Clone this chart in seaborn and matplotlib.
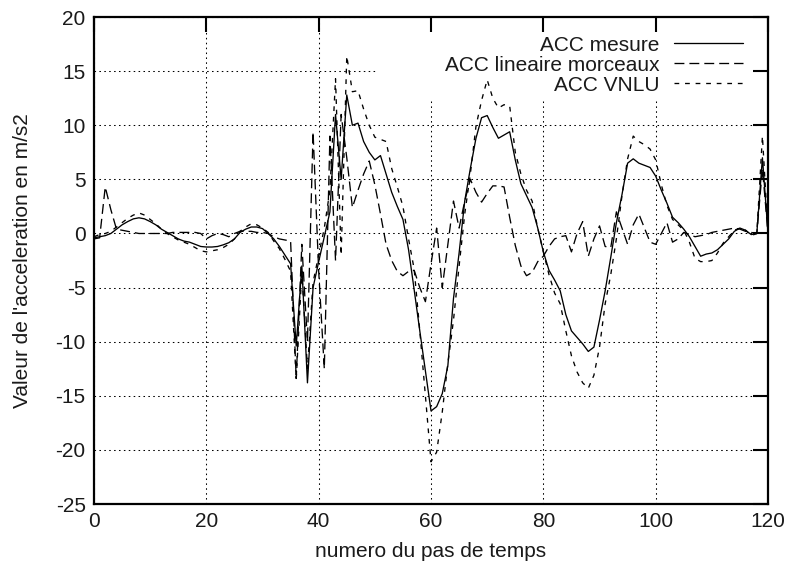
import numpy as np
import pandas as pd
import matplotlib
matplotlib.use("Agg")
import matplotlib.pyplot as plt
from matplotlib.path import Path
import seaborn as sns

# Time step index
steps = list(range(0, 121))

# Measured acceleration (m/s2)
acc_mesure = [
    -0.4, -0.3, -0.2, 0.0, 0.4, 0.8, 1.1, 1.35, 1.45, 1.35,
    1.1, 0.8, 0.4, 0.1, -0.2, -0.5, -0.7, -0.8, -1.0, -1.2,
    -1.25, -1.25, -1.2, -1.05, -0.85, -0.5, 0.1, 0.4, 0.6, 0.6,
    0.45, 0.0, -0.5, -1.2, -2.0, -2.8, -10.4, -3.0, -13.8, -5.0,
    -2.6, -0.3, 2.0, 11.0, 5.0, 12.8, 10.0, 10.2, 8.5, 7.5,
    6.8, 7.2, 5.5, 3.8, 2.5, 1.3, -1.5, -5.2, -9.0, -12.7,
    -16.4, -16.0, -14.8, -12.2, -6.0, -1.8, 3.0, 6.0, 8.8, 10.7,
    10.9, 9.8, 8.8, 9.1, 9.4, 6.8, 4.6, 3.5, 2.4, 0.5,
    -1.7, -3.4, -4.3, -5.3, -7.5, -9.0, -9.6, -10.2, -10.9, -10.5,
    -8.0, -5.3, -2.2, 1.0, 3.6, 6.5, 6.9, 6.5, 6.3, 6.1,
    5.3, 4.0, 2.8, 1.5, 1.0, 0.4, -0.3, -1.2, -2.1, -1.9,
    -1.8, -1.5, -1.0, -0.5, 0.2, 0.5, 0.3, -0.1, 0.0, 7.0,
    0.0,
]

# Piecewise linear model
acc_lineaire = [
    -0.5, -0.4, 4.3, 2.2, 0.4, 0.3, 0.2, 0.1, 0.0, 0.0,
    0.0, 0.0, 0.0, 0.0, 0.1, 0.1, 0.1, 0.1, 0.1, 0.0,
    -0.5, -0.2, 0.0, -0.1, -0.3, 0.0, 0.2, 0.2, 0.2, 0.1,
    0.1, 0.0, -0.3, -0.5, -0.6, -0.7, -13.4, -1.0, -10.0, 9.4,
    -3.5, -12.5, 9.0, -2.5, 11.0, 7.0, 2.4, 4.0, 5.5, 6.7,
    4.5, 1.8, -1.0, -2.5, -3.5, -3.9, -3.5, -3.4, -5.0, -6.3,
    -2.8, 0.5, -5.0, -1.0, 3.0, 0.5, 3.0, 5.0, 3.8, 2.9,
    3.7, 4.4, 4.4, 4.3, 1.5, -1.1, -3.0, -3.9, -3.6, -2.6,
    -2.1, -1.2, -0.5, -0.3, -0.2, -1.7, 0.0, 1.1, -2.1, -0.5,
    0.7, -1.2, -1.3, 2.0, 0.5, -1.0, 0.8, 1.8, 0.5, -0.8,
    -1.0, 0.0, 1.0, -0.8, -0.5, 0.1, -0.1, -0.3, -0.2, -0.1,
    0.1, 0.2, 0.3, 0.4, 0.5, 0.4, 0.2, 0.1, 0.0, 6.0,
    0.0,
]

# VNLU model
acc_vnlu = [
    -0.3, -0.1, 0.0, 0.2, 0.6, 1.0, 1.4, 1.7, 1.9, 1.7,
    1.3, 0.9, 0.4, 0.0, -0.3, -0.6, -0.8, -1.0, -1.3, -1.6,
    -1.7, -1.6, -1.5, -1.3, -1.0, -0.5, 0.2, 0.6, 0.9, 0.8,
    0.5, 0.1, -0.7, -1.4, -2.4, -3.5, -13.5, -3.5, -12.5, -4.5,
    -2.0, 0.5, 4.0, 14.3, -2.0, 16.4, 13.1, 13.2, 11.5, 10.0,
    8.9, 8.7, 8.5, 6.0, 4.3, 2.5, -0.5, -3.3, -9.0, -15.0,
    -21.1, -20.2, -16.5, -12.0, -8.0, -3.0, 1.8, 5.5, 9.9, 12.3,
    14.2, 12.5, 11.6, 11.9, 11.8, 7.5, 5.5, 4.0, 3.0, 0.5,
    -1.7, -3.8, -5.5, -6.5, -9.0, -11.3, -12.8, -13.8, -14.3, -13.1,
    -10.5, -6.5, -3.8, -0.5, 3.5, 6.9, 9.0, 8.5, 8.2, 7.8,
    6.8, 4.5, 2.6, 1.3, 0.8, 0.3, -0.8, -2.3, -2.6, -2.6,
    -2.5, -1.8, -0.9, -0.3, 0.3, 0.5, 0.3, -0.2, 0.0, 9.0,
    0.0,
]

labels = ["ACC mesure", "ACC lineaire morceaux", "ACC VNLU"]
x_ticks = [0, 20, 40, 60, 80, 100, 120]
y_ticks = [-25, -20, -15, -10, -5, 0, 5, 10, 15, 20]

sns.set_theme(style="white")
plt.rcParams["font.family"] = ["Liberation Sans", "DejaVu Sans"]
plt.rcParams["axes.unicode_minus"] = False

FS = 15

fig = plt.figure(figsize=(7.9, 5.69), dpi=100)
ax = fig.add_axes([0.119, 0.1142, 0.8532, 0.8558])

styles = [
    dict(linestyle="-"),
    dict(linestyle=(0, (7.5, 3.8))),
    dict(linestyle=(0, (3.6, 4.4))),
]
series = [acc_mesure, acc_lineaire, acc_vnlu]
for lab, vals, st in zip(labels, series, styles):
    df = pd.DataFrame({"pas": steps, "acc": vals})
    sns.lineplot(data=df, x="pas", y="acc", ax=ax, color="black",
                 linewidth=0.95, label=lab, estimator=None, errorbar=None,
                 zorder=3, **st)

ax.set_xlim(0, 120)
ax.set_ylim(-25, 20)
ax.set_xticks(x_ticks)
ax.set_yticks(y_ticks)
ax.set_xticklabels([str(v) for v in x_ticks])
ax.set_yticklabels([str(v) for v in y_ticks])

ax.tick_params(axis="both", which="major", direction="in", length=10.5,
               width=1.5, color="black", labelsize=FS, pad=6,
               top=True, right=True, labelcolor="#1a1a1a")
for sp in ax.spines.values():
    sp.set_linewidth(1.6)
    sp.set_color("black")

ax.grid(True, color="black", linestyle=(0, (1.5, 3.2)), linewidth=0.75)
ax.set_axisbelow(True)

ax.set_xlabel("numero du pas de temps", fontsize=FS, labelpad=8,
              color="#1a1a1a")
ax.set_ylabel("Valeur de l'acceleration en m/s2", fontsize=FS,
              labelpad=17, color="#1a1a1a")

leg = ax.legend(loc="upper right", bbox_to_anchor=(0.963, 0.962),
                frameon=False, markerfirst=False, fontsize=FS,
                handlelength=3.3, handletextpad=0.7, labelspacing=0.05,
                borderpad=0, borderaxespad=0)
for t in leg.get_texts():
    t.set_color("#1a1a1a")
for h in leg.get_lines():
    h.set_linewidth(0.95)

# Keep the grid out of the key area in the upper right corner
fig.canvas.draw()
kx, ky = 0.42, 0.832
key_clip = Path([(0, 0), (1, 0), (1, ky), (kx, ky), (kx, 1), (0, 1), (0, 0)],
                closed=True)
for gl in ax.xaxis.get_gridlines() + ax.yaxis.get_gridlines():
    gl.set_clip_path(key_clip, ax.transAxes)

fig.savefig("out.png", dpi=100, facecolor="white")
